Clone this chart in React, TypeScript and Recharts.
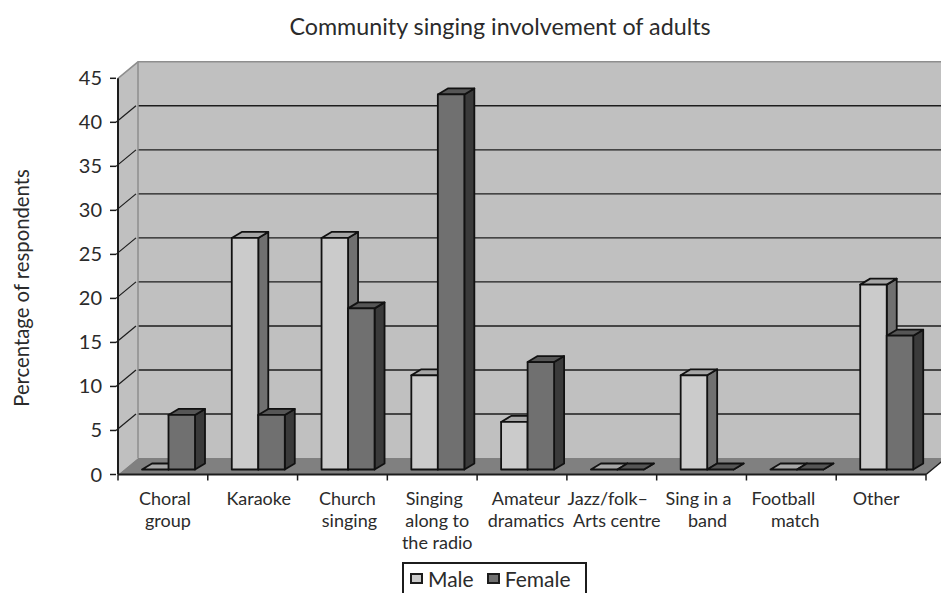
import React from 'react';
import { BarChart, Bar, XAxis, YAxis, CartesianGrid, Customized, Legend } from 'recharts';

const categories = [
  'Choral\ngroup',
  'Karaoke',
  'Church\nsinging',
  'Singing\nalong to\nthe radio',
  'Amateur\ndramatics',
  'Jazz/folk–\nArts centre',
  'Sing in a\nband',
  'Football\nmatch',
  'Other',
];
const male = [0, 26.3, 26.3, 10.7, 5.4, 0, 10.7, 0, 21];
const female = [6.2, 6.2, 18.3, 42.6, 12.2, 0, 0, 0, 15.2];
const yTicks = [0, 5, 10, 15, 20, 25, 30, 35, 40, 45];

// hand-set label offsets, one per line of each category label
const labelNudge = [
  [2, 5],
  [6],
  [5, 7],
  [2, 5, 5],
  [4, 4],
  [-4, 5],
  [-3, 6],
  [-8, 4],
  [-5],
];

const FONT = 'Lato, sans-serif';
const INK = '#1c1c1c';
const TEXT = '#2b2b2b';
const WIDTH = 941;
const HEIGHT = 593;
const LEFT = 118;
const RIGHT = 926;
const TOP = 78.3;
const BOTTOM = 474.5;
const Y_MAX = 45;
// offset of the back wall from the front of the box
const WALL_DX = 20;
const WALL_DY = -16.5;
// bars stand part way back on the floor
const BAR_DX = 6;
const BAR_DY = -5;
const BAR_DEPTH_X = 10;
const BAR_DEPTH_Y = -6;
const BAND = (RIGHT - LEFT) / categories.length;

const chartData = categories.map((name, i) => ({ name, male: male[i], female: female[i] }));

const maleFaces = { front: '#cbcbcb', top: '#a6a6a6', side: '#707070' };
const femaleFaces = { front: '#707070', top: '#565656', side: '#3a3a3a' };

function box3d(faces: { front: string; top: string; side: string }) {
  return function Box(props: any) {
    const x = props.x + BAR_DX;
    const y = props.y + BAR_DY;
    const w = props.width;
    const h = props.height;
    const common = { stroke: '#111', strokeWidth: 1.8, strokeLinejoin: 'round' as const };
    return (
      <g>
        <polygon
          {...common}
          fill={faces.side}
          points={`${x + w},${y} ${x + w + BAR_DEPTH_X},${y + BAR_DEPTH_Y} ${x + w + BAR_DEPTH_X},${y + h + BAR_DEPTH_Y} ${x + w},${y + h}`}
        />
        <polygon
          {...common}
          fill={faces.top}
          points={`${x},${y} ${x + BAR_DEPTH_X},${y + BAR_DEPTH_Y} ${x + w + BAR_DEPTH_X},${y + BAR_DEPTH_Y} ${x + w},${y}`}
        />
        <rect {...common} x={x} y={y} width={w} height={h} fill={faces.front} />
      </g>
    );
  };
}

// side wall, floor and the free-standing texts; the back wall is the grid's own fill
function Backdrop() {
  const wallTop = TOP + WALL_DY;
  const wallBottom = BOTTOM + WALL_DY;
  const wallLeft = LEFT + WALL_DX;
  const wallRight = RIGHT + WALL_DX;
  return (
    <g>
      <polygon
        points={`${LEFT},${TOP} ${wallLeft},${wallTop} ${wallLeft},${wallBottom} ${LEFT},${BOTTOM}`}
        fill="#c0c0c0"
      />
      <polygon
        points={`${LEFT},${BOTTOM} ${RIGHT},${BOTTOM} ${wallRight},${wallBottom} ${wallLeft},${wallBottom}`}
        fill="#808080"
      />
      <polyline
        points={`${LEFT},${TOP} ${wallLeft},${wallTop} ${wallRight},${wallTop}`}
        fill="none"
        stroke="#8e8e8e"
        strokeWidth={1.5}
      />
      <line x1={wallLeft} y1={wallTop} x2={wallLeft} y2={wallBottom} stroke="#8e8e8e" strokeWidth={1.5} />
      <line x1={RIGHT} y1={BOTTOM} x2={wallRight} y2={wallBottom} stroke={INK} strokeWidth={1.5} />
      <text x={500} y={35} textAnchor="middle" fontFamily={FONT} fontSize={23.3} fill={TEXT}>
        Community singing involvement of adults
      </text>
      <text
        transform="rotate(-90 29 288)"
        x={29}
        y={288}
        textAnchor="middle"
        fontFamily={FONT}
        fontSize={20.3}
        fill={TEXT}
      >
        Percentage of respondents
      </text>
    </g>
  );
}

function ValueTick(props: any) {
  const { x, y, payload } = props;
  const tickEnd = x + 6;
  return (
    <g>
      <line x1={tickEnd - 6} y1={y} x2={tickEnd} y2={y} stroke={INK} strokeWidth={1.5} />
      {payload.value > 0 && payload.value < Y_MAX ? (
        <line x1={tickEnd} y1={y} x2={tickEnd + WALL_DX} y2={y + WALL_DY} stroke={INK} strokeWidth={1.2} />
      ) : null}
      <text x={x - 8} y={y + 7} textAnchor="end" fontFamily={FONT} fontSize={20} fill={TEXT}>
        {payload.value}
      </text>
    </g>
  );
}

function CategoryTick(props: any) {
  const { x, payload, index } = props;
  const lines = String(payload.value).split('\n');
  const boundary = x - BAND / 2;
  return (
    <g>
      <line x1={boundary} y1={BOTTOM} x2={boundary} y2={BOTTOM + 6} stroke={INK} strokeWidth={1.5} />
      {index === categories.length - 1 ? (
        <line x1={x + BAND / 2} y1={BOTTOM} x2={x + BAND / 2} y2={BOTTOM + 6} stroke={INK} strokeWidth={1.5} />
      ) : null}
      {lines.map((line, i) => (
        <text
          key={line}
          x={x + labelNudge[index][i]}
          y={505 + i * 22}
          textAnchor="middle"
          fontFamily={FONT}
          fontSize={18}
          fill={TEXT}
        >
          {line}
        </text>
      ))}
    </g>
  );
}

function LegendBox(props: any) {
  const entries = props.payload || [];
  return (
    <div
      style={{
        display: 'flex',
        alignItems: 'center',
        boxSizing: 'border-box',
        width: 185,
        height: 40,
        paddingLeft: 6,
        paddingBottom: 8,
        border: `2px solid ${INK}`,
        fontFamily: FONT,
        fontSize: 21,
        color: TEXT,
      }}
    >
      {entries.map((entry: any) => (
        <span key={entry.value} style={{ display: 'flex', alignItems: 'center', marginRight: 13 }}>
          <span
            style={{
              width: 13,
              height: 11,
              marginRight: 5,
              background: entry.color,
              border: `2px solid ${INK}`,
              boxSizing: 'border-box',
            }}
          />
          {entry.value}
        </span>
      ))}
    </div>
  );
}

const gridLines = () =>
  yTicks
    .filter((t) => t > 0 && t < Y_MAX)
    .map((t) => BOTTOM - (t / Y_MAX) * (BOTTOM - TOP) + WALL_DY);

export default function App() {
  return (
    <div style={{ position: 'absolute', left: 0, top: 0, width: WIDTH, height: HEIGHT, overflow: 'hidden', background: '#fff' }}>
      <BarChart
        width={WIDTH}
        height={HEIGHT}
        data={chartData}
        margin={{ top: TOP, right: WIDTH - RIGHT, bottom: 0, left: 0 }}
        barSize={26.5}
        barGap={0}
      >
        <CartesianGrid
          vertical={false}
          x={LEFT + WALL_DX}
          y={TOP + WALL_DY}
          width={RIGHT - LEFT}
          height={BOTTOM - TOP}
          fill="#c0c0c0"
          fillOpacity={1}
          stroke={INK}
          strokeWidth={1.4}
          horizontalCoordinatesGenerator={gridLines}
        />
        <Customized component={Backdrop} />
        <XAxis
          dataKey="name"
          height={HEIGHT - BOTTOM}
          interval={0}
          tickLine={false}
          axisLine={{ stroke: INK, strokeWidth: 2 }}
          tick={CategoryTick}
        />
        <YAxis
          width={LEFT}
          domain={[0, Y_MAX]}
          ticks={yTicks}
          interval={0}
          tickLine={false}
          axisLine={{ stroke: INK, strokeWidth: 2 }}
          tick={ValueTick}
        />
        <Legend
          layout="horizontal"
          verticalAlign="middle"
          content={LegendBox}
          itemSorter={null}
          wrapperStyle={{ position: 'absolute', left: 402, top: 562, width: 185, height: 40, bottom: 'auto' }}
        />
        <Bar dataKey="male" name="Male" fill={maleFaces.front} isAnimationActive={false} shape={box3d(maleFaces)} />
        <Bar dataKey="female" name="Female" fill={femaleFaces.front} isAnimationActive={false} shape={box3d(femaleFaces)} />
      </BarChart>
    </div>
  );
}
